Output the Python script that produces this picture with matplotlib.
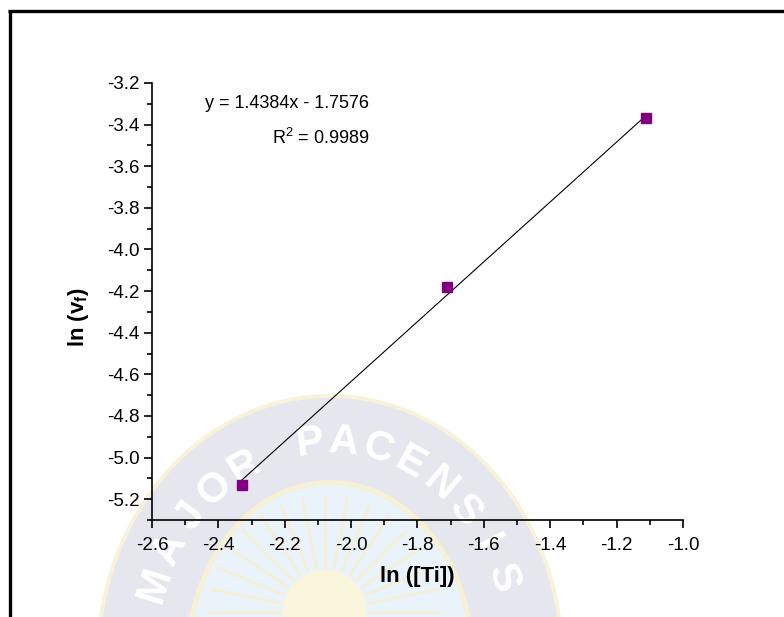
import numpy as np
import matplotlib.pyplot as plt
from matplotlib.patches import Ellipse
from matplotlib.ticker import MultipleLocator, FormatStrFormatter

plt.rcParams['font.family'] = ['Liberation Sans', 'DejaVu Sans']
plt.rcParams['axes.unicode_minus'] = False
plt.rcParams['mathtext.fontset'] = 'custom'
plt.rcParams['mathtext.rm'] = 'Liberation Sans'
plt.rcParams['mathtext.bf'] = 'Liberation Sans:bold'

# data
ln_ti = [-2.33, -1.71, -1.11]
ln_vf = [-5.13, -4.18, -3.37]
fit_slope = 1.4384
fit_intercept = -1.7576
fit_r2 = 0.9989
watermark_text = 'MAJOR PACENSIS'

fig = plt.figure(figsize=(7.84, 6.17), dpi=100)

### background: frame + faint seal watermark (pixel coords)
bg = fig.add_axes([0, 0, 1, 1], zorder=0)
bg.set_xlim(0, 784)
bg.set_ylim(617, 0)
bg.axis('off')
cx, cy = 330, 660
bg.add_patch(Ellipse((cx, cy), 2 * 234, 2 * 266, color='#f7f2da', lw=0))
bg.add_patch(Ellipse((cx, cy), 2 * 230, 2 * 262, color='#e5e6ee', lw=0))
bg.add_patch(Ellipse((cx, cy), 2 * 145, 2 * 180, color='#f6f0d4', lw=0))
bg.add_patch(Ellipse((cx, cy), 2 * 140, 2 * 175, color='#eaf3fa', lw=0))
for a in np.linspace(0, np.pi, 17):
    bg.plot([cx - 5 + 45 * np.cos(a), cx - 5 + 115 * np.cos(a)],
            [612 - 45 * np.sin(a), 612 - 115 * np.sin(a)],
            color='#f4f0d8', lw=2, zorder=1)
bg.add_patch(Ellipse((cx - 5, 612), 84, 84, color='#f9f5dc', lw=0, zorder=2))
ts = np.radians(np.linspace(160, 22, len(watermark_text)))
for ch, t in zip(watermark_text, ts):
    if ch == ' ':
        continue
    x = cx + 186 * np.cos(t)
    y = cy - 218 * np.sin(t)
    rot = np.degrees(np.arctan2(-218 * np.cos(t), 186 * np.sin(t)))
    bg.text(x, y, ch, color='white', fontsize=30, fontweight='bold',
            ha='center', va='center', rotation=rot, rotation_mode='anchor',
            zorder=3)
bg.plot([8, 784], [11, 11], color='black', lw=2.4, solid_capstyle='butt')
bg.plot([10, 10], [10, 617], color='black', lw=2.4, solid_capstyle='butt')

### main chart
ax = fig.add_axes([152 / 784, 1 - 520 / 617, 531 / 784, 437 / 617], zorder=1)
ax.patch.set_alpha(0)
xs = np.array([min(ln_ti), max(ln_ti)])
ax.plot(xs, fit_slope * xs + fit_intercept, color='black', lw=0.8, zorder=2)
ax.plot(ln_ti, ln_vf, 's', color='#800080', markersize=7, zorder=3)

ax.set_xlim(-2.6, -1.0)
ax.set_ylim(-5.3, -3.2)
ax.xaxis.set_major_locator(MultipleLocator(0.2))
ax.xaxis.set_minor_locator(MultipleLocator(0.1))
ax.yaxis.set_major_locator(MultipleLocator(0.2))
ax.yaxis.set_minor_locator(MultipleLocator(0.1))
ax.xaxis.set_major_formatter(FormatStrFormatter('%.1f'))
ax.yaxis.set_major_formatter(FormatStrFormatter('%.1f'))
for s in ['top', 'right']:
    ax.spines[s].set_visible(False)
for s in ['left', 'bottom']:
    ax.spines[s].set_linewidth(1.2)
ax.tick_params(which='major', direction='out', length=6, width=1.2, labelsize=13.5)
ax.tick_params(which='minor', direction='out', length=3.5, width=1.2)
ax.tick_params(axis='x', pad=6)
ax.tick_params(axis='y', pad=3)

ax.set_xlabel('ln ([Ti])', fontsize=16, fontweight='bold')
ax.set_ylabel(r'ln (v$_\mathbf{f}$)', fontsize=16, fontweight='bold')
ax.xaxis.set_label_coords(0.5, -0.105)
ax.yaxis.set_label_coords(-0.115, 0.465)

ax.text(-1.946, -3.298, 'y = %.4fx - %.4f' % (fit_slope, -fit_intercept),
        fontsize=13, ha='right', va='center')
ax.text(-1.946, -3.466, r'R$^2$ = %.4f' % fit_r2,
        fontsize=13, ha='right', va='center')

plt.savefig('out.png', dpi=100)
